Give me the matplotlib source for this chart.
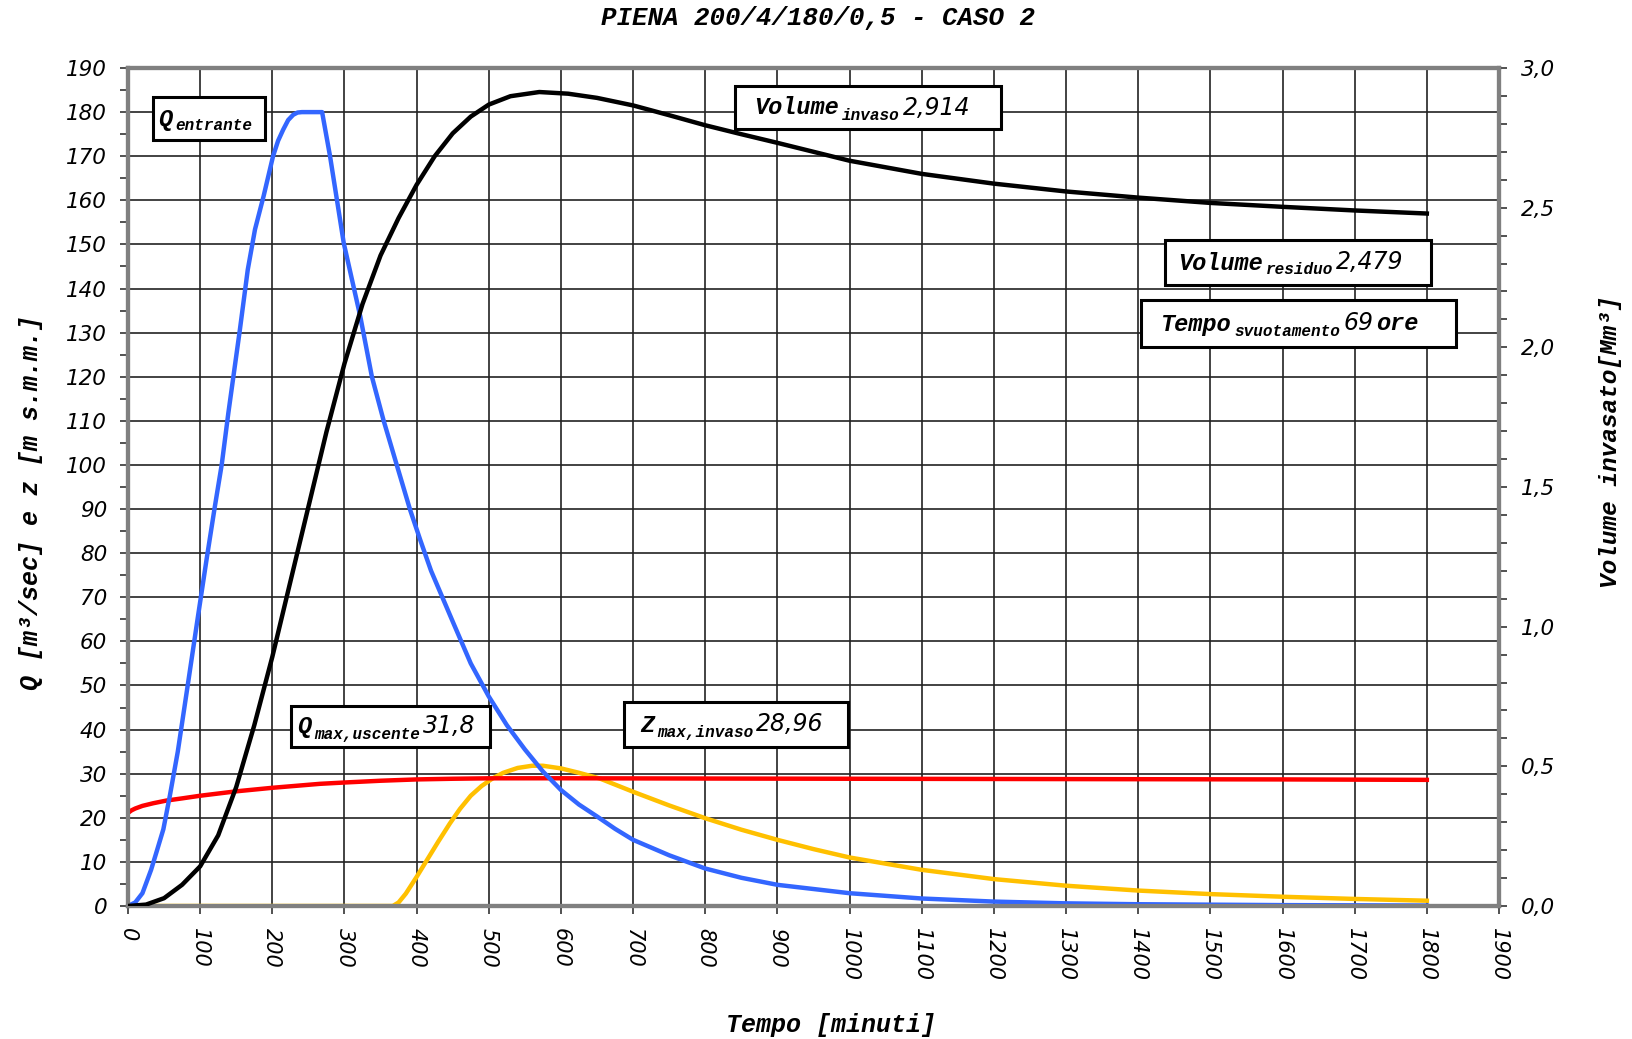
import matplotlib
matplotlib.use("Agg")
import matplotlib.pyplot as plt
from matplotlib.patches import Rectangle
from matplotlib.ticker import MultipleLocator, FuncFormatter

# ---------------- data ----------------
t_in = [0, 10, 20, 32, 40, 49, 58, 69, 83, 97, 109, 120, 130, 139, 155, 166, 176, 188, 201, 208,
        215, 222, 229, 235, 241, 269, 280, 299, 322, 338, 354, 373, 391, 405, 420, 450, 475, 500,
        525, 550, 575, 600, 625, 650, 675, 700, 750, 800, 850, 900, 1000, 1100, 1200, 1300, 1400,
        1500, 1600, 1700, 1800]
q_in = [0, 0.8, 2.9, 8.2, 12.5, 17.4, 25, 35, 50.3, 65.7, 78.7, 90.2, 100.2, 111.7, 130.6, 144.3,
        153.4, 161, 170, 173.5, 176, 178.2, 179.4, 179.9, 180, 180, 170, 150.3, 133.6, 120, 110.2,
        99.7, 89.8, 83, 76, 64.5, 55, 47.5, 41, 35.5, 30.5, 26.3, 23, 20.3, 17.5, 15, 11.5, 8.5,
        6.4, 4.8, 2.9, 1.7, 1.0, 0.6, 0.4, 0.3, 0.2, 0.15, 0.1]

t_z = [0, 5, 10, 20, 35, 53, 75, 100, 150, 200, 266, 300, 350, 400, 450, 500, 600, 800, 1000,
       1200, 1400, 1600, 1800]
z_lev = [21.1, 21.7, 22.1, 22.7, 23.3, 23.9, 24.4, 25.0, 26.0, 26.8, 27.7, 28.0, 28.4, 28.7,
         28.85, 28.95, 28.96, 28.9, 28.85, 28.8, 28.75, 28.7, 28.6]

t_out = [0, 367, 375, 385, 400, 415, 430, 446, 460, 475, 490, 505, 520, 540, 560, 575, 600, 625,
         654, 700, 750, 800, 850, 900, 950, 1000, 1100, 1200, 1300, 1400, 1500, 1600, 1700, 1800]
q_out = [0, 0, 0.8, 2.8, 6.6, 10.6, 14.6, 18.7, 22, 25, 27.2, 28.9, 30.2, 31.3, 31.8, 31.8, 31.2,
         30.2, 28.9, 25.9, 22.8, 19.9, 17.3, 15.0, 12.9, 11.0, 8.2, 6.1, 4.6, 3.5, 2.7, 2.1, 1.6,
         1.2]

t_vol = [0, 25, 50, 75, 100, 125, 150, 175, 200, 225, 250, 275, 300, 325, 350, 375, 400, 425,
         450, 475, 500, 530, 570, 610, 650, 700, 750, 800, 850, 900, 1000, 1100, 1200, 1300, 1400,
         1500, 1600, 1700, 1800]
vol = [0, 0.005, 0.028, 0.076, 0.142, 0.253, 0.426, 0.647, 0.892, 1.161, 1.429, 1.697, 1.942,
       2.155, 2.329, 2.463, 2.582, 2.684, 2.766, 2.826, 2.869, 2.899, 2.914, 2.908, 2.893, 2.866,
       2.831, 2.795, 2.763, 2.732, 2.668, 2.621, 2.586, 2.558, 2.536, 2.517, 2.503, 2.490, 2.479]

title = "PIENA 200/4/180/0,5 - CASO 2"
xlabel = "Tempo [minuti]"
ylabel = "Q [m³/sec] e z [m s.m.m.]"
ylabel2 = "Volume invasato[Mm³]"

# ---------------- figure ----------------
W, H = 1632, 1039
fig = plt.figure(figsize=(W / 100, H / 100), dpi=100)
fig.patch.set_facecolor("white")

L, R, T, B = 128, 1499, 68, 906
ax = fig.add_axes([L / W, 1 - B / H, (R - L) / W, (B - T) / H])
ax2 = ax.twinx()

mono = dict(family="Liberation Mono", weight="bold", style="italic")
sans = dict(family="DejaVu Sans", style="italic")

LW = 3.2
ax.plot(t_out, q_out, color="#FFC000", lw=LW, zorder=3, solid_joinstyle="round")
ax.plot(t_z, z_lev, color="#FF0000", lw=LW, zorder=4, solid_joinstyle="round")
ax.plot(t_in, q_in, color="#3366FF", lw=LW, zorder=5, solid_joinstyle="round")
ax2.plot(t_vol, vol, color="black", lw=LW, zorder=5, solid_joinstyle="round")

ax.set_xlim(0, 1900)
ax.set_ylim(0, 190)
ax2.set_ylim(0, 3.0)

ax.xaxis.set_major_locator(MultipleLocator(100))
ax.yaxis.set_major_locator(MultipleLocator(10))
ax.yaxis.set_minor_locator(MultipleLocator(5))
ax2.yaxis.set_major_locator(MultipleLocator(0.5))
ax2.yaxis.set_minor_locator(MultipleLocator(0.1))
ax2.yaxis.set_major_formatter(FuncFormatter(lambda v, p: f"{v:.1f}".replace(".", ",")))

ax.grid(True, which="major", color="#222222", lw=1.2)
ax.set_axisbelow(True)

for a in (ax, ax2):
    for s in a.spines.values():
        s.set_color("#808080")
        s.set_linewidth(3)

ax.tick_params(axis="both", which="major", direction="out", length=6, width=1.2, color="#333333")
ax.tick_params(axis="y", which="minor", direction="out", length=6, width=1.2, color="#333333")
ax.tick_params(axis="y", pad=9)
ax.tick_params(axis="x", pad=10)
ax2.tick_params(axis="y", which="major", direction="out", length=6, width=1.2, color="#333333", pad=10)
ax2.tick_params(axis="y", which="minor", direction="out", length=6, width=1.2, color="#333333")

for lab in ax.get_yticklabels() + ax2.get_yticklabels():
    lab.set_fontsize(15.5)
    lab.set(**sans)
for lab in ax.get_xticklabels():
    lab.set_fontsize(15)
    lab.set(**sans)
    lab.set_rotation(-90)
    lab.set_va("top")
    lab.set_ha("center")

fig.text(818 / W, 1 - 18 / H, title, ha="center", va="center", fontsize=18.5, **mono)
fig.text(831 / W, 1 - 1025 / H, xlabel, ha="center", va="center", fontsize=18, **mono)
fig.text(31 / W, 1 - 502 / H, ylabel, ha="center", va="center", rotation=90, fontsize=18, **mono)
fig.text(1611 / W, 1 - 442 / H, ylabel2, ha="center", va="center", rotation=90, fontsize=17.6, **mono)

# ---------------- annotation boxes ----------------
renderer = fig.canvas.get_renderer()

def fx(px):
    return px / W

def fy(py):
    return 1 - py / H

def label_box(x0, y0, x1, y1, tx, parts):
    rect = Rectangle((fx(x0), fy(y1)), (x1 - x0) / W, (y1 - y0) / H, transform=fig.transFigure,
                     facecolor="white", edgecolor="black", lw=2.2, zorder=10)
    fig.add_artist(rect)
    base = (y0 + y1) / 2 + 7
    x = tx
    for text, kind in parts:
        if kind == "main":
            props, size, dy = mono, 17, 0
        elif kind == "sub":
            props, size, dy = mono, 11.5, 5
        elif kind == "val":
            props, size, dy = sans, 17, 0
        else:
            props, size, dy = mono, 17, 0
        t = fig.text(fx(x), fy(base + dy), text, ha="left", va="baseline", fontsize=size,
                     zorder=11, **props)
        bb = t.get_window_extent(renderer)
        x += bb.width + 3

label_box(153, 97, 265, 140, 158, [("Q", "main"), ("entrante", "sub")])
label_box(735, 86, 1001, 129, 754, [("Volume", "main"), ("invaso", "sub"), ("2,914", "val")])
label_box(1165, 240, 1431, 285, 1178, [("Volume", "main"), ("residuo", "sub"), ("2,479", "val")])
label_box(1141, 300, 1456, 347, 1161, [("Tempo", "main"), ("svuotamento", "sub"), ("69", "val"),
                                        ("ore", "word")])
label_box(291, 706, 490, 747, 297, [("Q", "main"), ("max,uscente", "sub"), ("31,8", "val")])
label_box(624, 702, 848, 747, 640, [("Z", "main"), ("max,invaso", "sub"), ("28,96", "val")])

fig.savefig("out.png", dpi=100, facecolor="white")
